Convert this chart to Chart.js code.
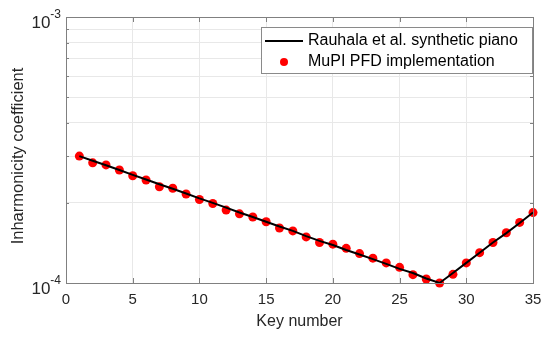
<!DOCTYPE html>
<html><head><meta charset="utf-8">
<script src="https://cdn.jsdelivr.net/npm/chart.js@4/dist/chart.umd.min.js"></script>
<style>html,body{margin:0;padding:0;background:#fff}#wrap{width:550px;height:338px}</style>
</head><body><div id="wrap"><canvas id="c" width="550" height="338"></canvas></div>
<script>
const keys = [1,2,3,4,5,6,7,8,9,10,11,12,13,14,15,16,17,18,19,20,21,22,23,24,25,26,27,28,29,30,31,32,33,34,35];
const rauhala = [3.00e-4,2.88e-4,2.77e-4,2.66e-4,2.55e-4,2.45e-4,2.35e-4,2.26e-4,2.17e-4,2.08e-4,2.00e-4,1.92e-4,1.84e-4,1.77e-4,1.70e-4,1.63e-4,1.57e-4,1.50e-4,1.44e-4,1.39e-4,1.33e-4,1.28e-4,1.23e-4,1.18e-4,1.13e-4,1.09e-4,1.04e-4,1.00e-4,1.09e-4,1.19e-4,1.30e-4,1.42e-4,1.54e-4,1.68e-4,1.84e-4];
const mupi = [3.00e-4,2.83e-4,2.78e-4,2.66e-4,2.53e-4,2.44e-4,2.30e-4,2.27e-4,2.16e-4,2.06e-4,1.99e-4,1.88e-4,1.82e-4,1.77e-4,1.70e-4,1.61e-4,1.57e-4,1.49e-4,1.42e-4,1.40e-4,1.35e-4,1.29e-4,1.24e-4,1.19e-4,1.145e-4,1.075e-4,1.035e-4,1.00e-4,1.078e-4,1.19e-4,1.30e-4,1.42e-4,1.545e-4,1.69e-4,1.84e-4];
const xTicks = [0,5,10,15,20,25,30,35];
const yGrid = [1e-4,2e-4,3e-4,4e-4,5e-4,6e-4,7e-4,8e-4,9e-4,1e-3];
const yLabels = [{v:1e-4,exp:'-4'},{v:1e-3,exp:'-3'}];
const seriesNames = ['Rauhala et al. synthetic piano','MuPI PFD implementation'];
const xTitle = 'Key number', yTitle = 'Inharmonicity coefficient';

const FONT = '"Liberation Sans", Arial, sans-serif';
const AXIS = '#808080', TXT = '#262626';

const deco = {
  id:'deco',
  afterDraw(chart){
    const ctx = chart.ctx, a = chart.chartArea, xs = chart.scales.x, ys = chart.scales.y;
    ctx.save();
    // box
    ctx.strokeStyle = AXIS; ctx.lineWidth = 1;
    ctx.strokeRect(Math.round(a.left)+0.5, Math.round(a.top)+0.5, Math.round(a.right-a.left), Math.round(a.bottom-a.top));
    // inner ticks
    ctx.beginPath();
    xTicks.forEach(t=>{const x=Math.round(xs.getPixelForValue(t))+0.5;
      ctx.moveTo(x,a.bottom); ctx.lineTo(x,a.bottom-5);
      ctx.moveTo(x,a.top); ctx.lineTo(x,a.top+5);});
    yGrid.forEach(t=>{const y=Math.round(ys.getPixelForValue(t))+0.5;
      const len = (t===1e-4||t===1e-3)?5:3;
      ctx.moveTo(a.left,y); ctx.lineTo(a.left+len,y);
      ctx.moveTo(a.right,y); ctx.lineTo(a.right-len,y);});
    ctx.stroke();
    // y labels with superscript
    ctx.fillStyle = TXT; ctx.textBaseline='alphabetic';
    yLabels.forEach(l=>{
      const y = ys.getPixelForValue(l.v);
      ctx.font = '17px '+FONT;
      const w1 = ctx.measureText('10').width;
      ctx.font = '12px '+FONT;
      const w2 = ctx.measureText(l.exp).width;
      const x0 = a.left - 5 - w1 - w2;
      ctx.font = '17px '+FONT; ctx.textAlign='left';
      ctx.fillText('10', x0, y+11);
      ctx.font = '12px '+FONT;
      ctx.fillText(l.exp, x0+w1, y+1);
    });
    // titles
    ctx.font = '16px '+FONT; ctx.textAlign='center'; ctx.textBaseline='middle';
    ctx.fillText(xTitle, (a.left+a.right)/2, 322);
    ctx.save(); ctx.translate(18,156); ctx.rotate(-Math.PI/2);
    ctx.font = '16.5px '+FONT;
    ctx.fillText(yTitle,0,0); ctx.restore();
    // legend
    const lx=261, ly=27, lw=271, lh=46;
    ctx.fillStyle='#fff'; ctx.fillRect(lx,ly,lw,lh);
    ctx.strokeStyle='#8a8a8a'; ctx.lineWidth=1; ctx.strokeRect(lx+0.5,ly+0.5,lw,lh);
    ctx.strokeStyle='#000'; ctx.lineWidth=2; ctx.beginPath(); ctx.moveTo(265,41); ctx.lineTo(303,41); ctx.stroke();
    ctx.fillStyle='#ff0000'; ctx.beginPath(); ctx.arc(284,62,4,0,Math.PI*2); ctx.fill();
    ctx.fillStyle='#000'; ctx.font='16px '+FONT; ctx.textAlign='left'; ctx.textBaseline='middle';
    ctx.fillText(seriesNames[0],308,41);
    ctx.fillText(seriesNames[1],308,62);
    ctx.restore();
  }
};

new Chart(document.getElementById('c'),{
  type:'line',
  data:{datasets:[
    {label:seriesNames[0],data:keys.map((k,i)=>({x:k,y:rauhala[i]})),borderColor:'#000',borderWidth:2,pointRadius:0,fill:false,tension:0,clip:false},
    {label:seriesNames[1],data:keys.map((k,i)=>({x:k,y:mupi[i]})),showLine:false,pointRadius:4.5,pointBackgroundColor:'#ff0000',pointBorderColor:'#ff0000',pointBorderWidth:0,clip:false}
  ]},
  options:{
    responsive:false,animation:false,devicePixelRatio:1,
    layout:{padding:{left:0,right:17,top:17,bottom:0}},
    plugins:{legend:{display:false},tooltip:{enabled:false}},
    scales:{
      x:{type:'linear',min:0,max:35,
        afterBuildTicks(s){s.ticks=xTicks.map(v=>({value:v}));},
        afterFit(s){s.height=55;},
        grid:{color:'#e8e8e8',drawTicks:false},
        border:{display:false},
        ticks:{padding:8,color:TXT,font:{family:FONT,size:15},maxRotation:0,callback:v=>String(v)}},
      y:{type:'logarithmic',min:1e-4,max:1e-3,
        afterBuildTicks(s){s.ticks=yGrid.map(v=>({value:v}));},
        afterFit(s){s.width=66;},
        grid:{color:'#e8e8e8',drawTicks:false},
        border:{display:false},
        ticks:{display:false}}
    }
  },
  plugins:[deco]
});
</script></body></html>
